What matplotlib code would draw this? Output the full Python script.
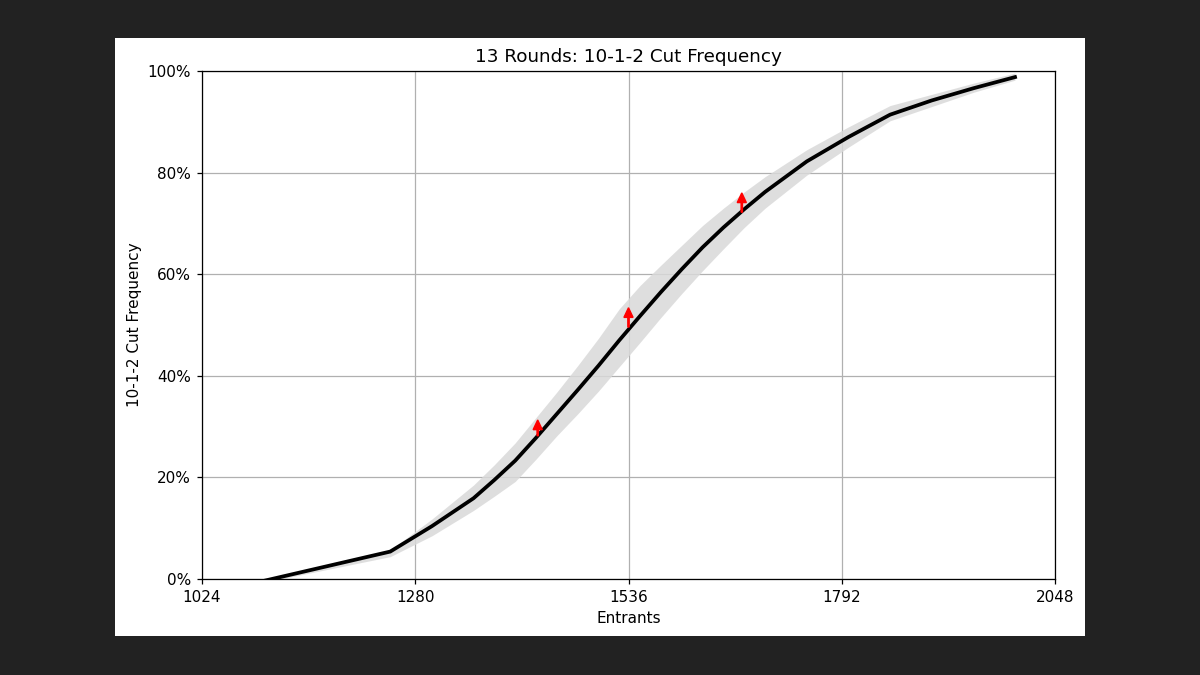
import matplotlib.pyplot as plt
from matplotlib.patches import Rectangle
from matplotlib.ticker import PercentFormatter

# entrants vs. share of runs where 10-1-2 makes the cut
entrants = [1100, 1250, 1300, 1350, 1375, 1400, 1425, 1450, 1475, 1500,
            1525, 1550, 1575, 1600, 1625, 1650, 1675, 1700, 1750, 1800,
            1850, 1900, 1950, 2000]
freq = [-0.003, 0.054, 0.104, 0.159, 0.195, 0.233, 0.278, 0.325, 0.372, 0.420,
        0.470, 0.518, 0.565, 0.610, 0.653, 0.692, 0.728, 0.762, 0.822, 0.870,
        0.914, 0.942, 0.966, 0.988]
freq_hi = [-0.001, 0.057, 0.118, 0.185, 0.225, 0.268, 0.318, 0.368, 0.420, 0.474,
           0.532, 0.578, 0.618, 0.657, 0.696, 0.730, 0.762, 0.792, 0.845, 0.890,
           0.932, 0.954, 0.976, 0.996]
freq_lo = [-0.006, 0.044, 0.085, 0.135, 0.163, 0.192, 0.236, 0.282, 0.325, 0.370,
           0.418, 0.466, 0.515, 0.562, 0.607, 0.650, 0.692, 0.730, 0.795, 0.850,
           0.902, 0.930, 0.958, 0.982]

# red markers
arrow_x = [1427, 1536, 1672]
arrow_y = [0.282, 0.496, 0.722]
arrow_dy = [0.031, 0.038, 0.038]

xticks = [1024, 1280, 1536, 1792, 2048]

fig = plt.figure(figsize=(12, 6.75), dpi=100, facecolor='#222222')
fig.patches.append(Rectangle((115 / 1200, 39 / 675), 970 / 1200, 598 / 675,
                             transform=fig.transFigure, facecolor='white',
                             edgecolor='none', zorder=-10))
ax = fig.add_axes([202 / 1200, 96 / 675, 853 / 1200, 508 / 675])

ax.fill_between(entrants, freq_lo, freq_hi, color='#d9d9d9', alpha=0.85, linewidth=0)
ax.plot(entrants, freq, color='black', linewidth=2.7)

for x, y, dy in zip(arrow_x, arrow_y, arrow_dy):
    ax.arrow(x, y, 0, dy, width=1.6, head_width=11, head_length=0.019,
             length_includes_head=True, color='red', zorder=5)

ax.set_xlim(1024, 2048)
ax.set_ylim(0, 1)
ax.set_xticks(xticks)
ax.yaxis.set_major_formatter(PercentFormatter(1.0, decimals=0))
ax.grid(True, color='#b0b0b0', linewidth=0.9)
ax.set_axisbelow(True)
for s in ax.spines.values():
    s.set_linewidth(0.9)

ax.set_title("13 Rounds: 10-1-2 Cut Frequency", fontsize=13.2, pad=6.6)
ax.set_xlabel("Entrants", fontsize=11, labelpad=4.4)
ax.set_ylabel("10-1-2 Cut Frequency", fontsize=11, labelpad=4.4)
ax.tick_params(labelsize=11, length=3.9, width=0.9, pad=3.9)

plt.savefig("out.png", dpi=100, facecolor=fig.get_facecolor())
plt.close()
